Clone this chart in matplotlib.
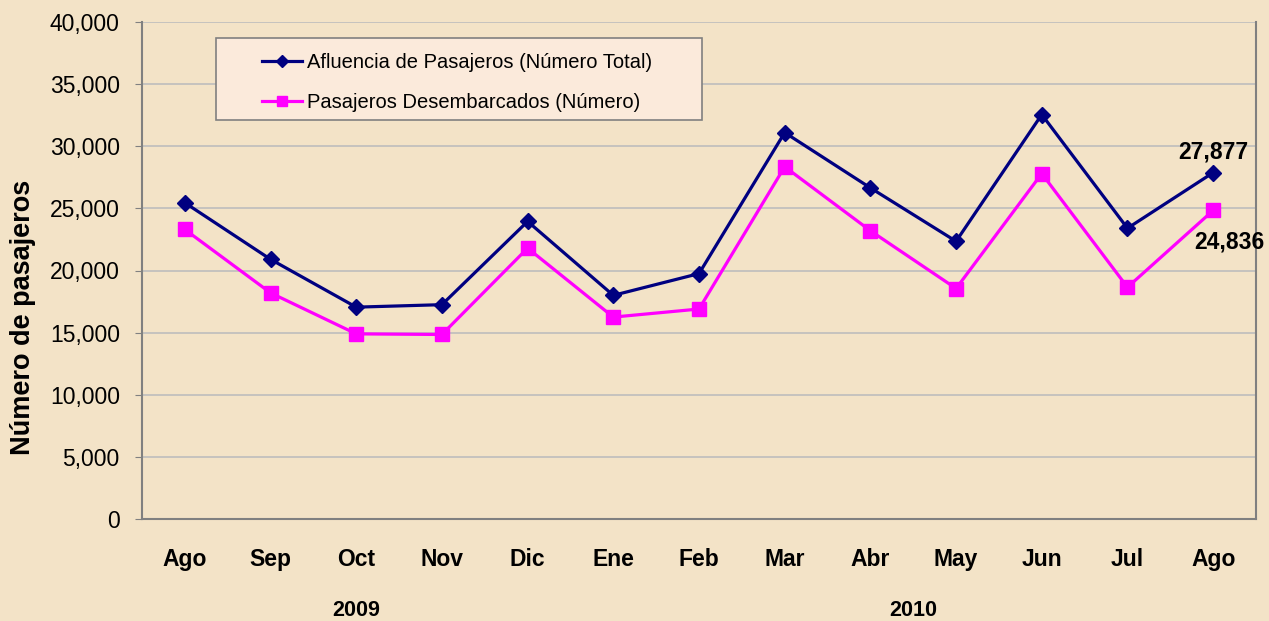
import numpy as np
from matplotlib import pyplot as plt
from matplotlib.patches import Rectangle

# datos
meses = ["Ago", "Sep", "Oct", "Nov", "Dic", "Ene", "Feb", "Mar", "Abr", "May", "Jun", "Jul", "Ago"]
afluencia = [25450, 20900, 17050, 17250, 23950, 18000, 19750, 31100, 26650, 22350, 32550, 23400, 27877]
desembarcados = [23300, 18200, 14900, 14850, 21800, 16250, 16900, 28350, 23200, 18550, 27800, 18650, 24836]
anios = ["2009", "2010"]
pos_anios = [2, 8.5]

plt.rcParams['font.family'] = ['Liberation Sans', 'DejaVu Sans']
fondo = '#F3E3C7'
W, H = 1269, 621

fig = plt.figure(figsize=(W/100, H/100), dpi=100, facecolor=fondo)
ax = fig.add_axes([142/W, 1-519/H, (1256-142)/W, (519-22)/H])
ax.set_facecolor(fondo)

x = np.arange(len(meses))
ax.plot(x, afluencia, color='#000080', lw=2.3, marker='D', ms=8.5,
        label="Afluencia de Pasajeros (Número Total)", zorder=3)
ax.plot(x, desembarcados, color='#FF00FF', lw=2.3, marker='s', ms=10,
        label="Pasajeros Desembarcados (Número)", zorder=3)

ax.set_xlim(-0.5, len(meses)-0.5)
ax.set_ylim(0, 40000)
ax.set_yticks(np.arange(0, 40001, 5000))
ax.set_yticklabels([f"{v:,}" if v else "0" for v in range(0, 40001, 5000)], fontsize=16.5)
ax.set_xticks(x)
ax.set_xticklabels(meses, fontsize=16.5, fontweight='bold')
ax.tick_params(axis='x', length=0, pad=21)
ax.tick_params(axis='y', length=5, color='#808080', pad=11)
ax.yaxis.grid(True, color='#BDBDBD', lw=1.2)
ax.set_axisbelow(True)
for s in ['left', 'bottom', 'right']:
    ax.spines[s].set_color('#808080')
    ax.spines[s].set_linewidth(1.5)
ax.spines['top'].set_visible(False)

fig.text(23/W, 1-317/H, "Número de pasajeros", rotation=90, ha='center', va='center',
         fontsize=19.5, fontweight='bold')

ax.annotate(f"{afluencia[-1]:,}", (x[-1], afluencia[-1]), xytext=(0, 14.5),
            textcoords='offset points', ha='center', va='center',
            fontsize=16.5, fontweight='bold')
ax.annotate(f"{desembarcados[-1]:,}", (x[-1], desembarcados[-1]), xytext=(11.5, -22.5),
            textcoords='offset points', ha='center', va='center',
            fontsize=16.5, fontweight='bold')

for a, p in zip(anios, pos_anios):
    ax.text(p, -92/497, a, transform=ax.get_xaxis_transform(), ha='center', va='center',
            fontsize=15.5, fontweight='bold')

# caja de la leyenda
caja = Rectangle((216/W, 1-120/H), (702-216)/W, (120-38)/H, transform=fig.transFigure,
                 facecolor='#FBEADB', edgecolor='#808080', lw=1.2, zorder=4)
ax.add_patch(caja)
caja.set_clip_on(False)
leg = ax.legend(loc='upper left', bbox_to_anchor=(262/W, 1-53/H),
                bbox_transform=fig.transFigure, fontsize=14.5, frameon=False,
                borderpad=0, borderaxespad=0, labelspacing=1.05, handlelength=2.0,
                handletextpad=0.25, markerscale=0.7)
leg.set_zorder(5)

fig.savefig("out.png", dpi=100, facecolor=fondo)
